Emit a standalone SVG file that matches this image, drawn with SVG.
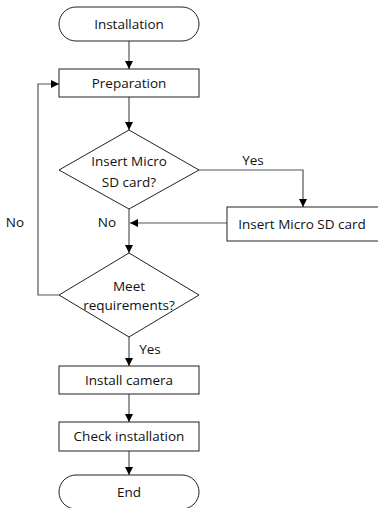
<svg xmlns="http://www.w3.org/2000/svg" width="378" height="508" viewBox="0 0 378 508">
<style>
.shape{fill:#fff;stroke:#222;stroke-width:1}
.conn{fill:none;stroke:#555;stroke-width:1.2}
text{font-family:"Open Sans","Liberation Sans",sans-serif;font-size:13.5px;fill:#111;text-anchor:middle;dominant-baseline:central}
</style>
<defs>
<marker id="arr" viewBox="0 0 10 10" refX="10" refY="5" markerWidth="8" markerHeight="8" markerUnits="userSpaceOnUse" orient="auto">
<path d="M0,0 L10,5 L0,10 z" fill="#000"/>
</marker>
</defs>
<g id="connectors">
<line class="conn" x1="129" y1="41" x2="129" y2="69" marker-end="url(#arr)"/>
<line class="conn" x1="129" y1="97" x2="129" y2="130" marker-end="url(#arr)"/>
<polyline class="conn" points="199,170 303,170 303,207" marker-end="url(#arr)"/>
<line class="conn" x1="227" y1="223" x2="130" y2="223" marker-end="url(#arr)"/>
<line class="conn" x1="129" y1="209" x2="129" y2="253" marker-end="url(#arr)"/>
<polyline class="conn" points="59,295 38,295 38,84 59,84" marker-end="url(#arr)"/>
<line class="conn" x1="129" y1="337" x2="129" y2="366" marker-end="url(#arr)"/>
<line class="conn" x1="129" y1="394" x2="129" y2="422" marker-end="url(#arr)"/>
<line class="conn" x1="129" y1="451" x2="129" y2="475" marker-end="url(#arr)"/>
<text x="253" y="160">Yes</text>
<text x="107" y="222">No</text>
<text x="15" y="222">No</text>
<text x="150" y="349">Yes</text>
</g>
<g id="installation">
<rect class="shape" x="59" y="7" width="140" height="34" rx="17"/>
<text x="129" y="24">Installation</text>
</g>
<g id="preparation">
<rect class="shape" x="59" y="69" width="140" height="28"/>
<text x="129" y="83">Preparation</text>
</g>
<g id="insert-decision">
<polygon class="shape" points="129,130 199,170 129,209 59,170"/>
<text x="129" y="161">Insert Micro</text>
<text x="129" y="182">SD card?</text>
</g>
<g id="insert-card">
<rect class="shape" x="227" y="207" width="155" height="34"/>
<text x="302" y="224">Insert Micro SD card</text>
</g>
<g id="requirements-decision">
<polygon class="shape" points="129,253 199,295 129,337 59,295"/>
<text x="129" y="286">Meet</text>
<text x="129" y="305">requirements?</text>
</g>
<g id="install-camera">
<rect class="shape" x="59" y="366" width="140" height="28"/>
<text x="129" y="380">Install camera</text>
</g>
<g id="check-installation">
<rect class="shape" x="59" y="422" width="140" height="29"/>
<text x="129" y="436">Check installation</text>
</g>
<g id="end">
<rect class="shape" x="59" y="475" width="140" height="34" rx="17"/>
<text x="129" y="492">End</text>
</g>
</svg>
